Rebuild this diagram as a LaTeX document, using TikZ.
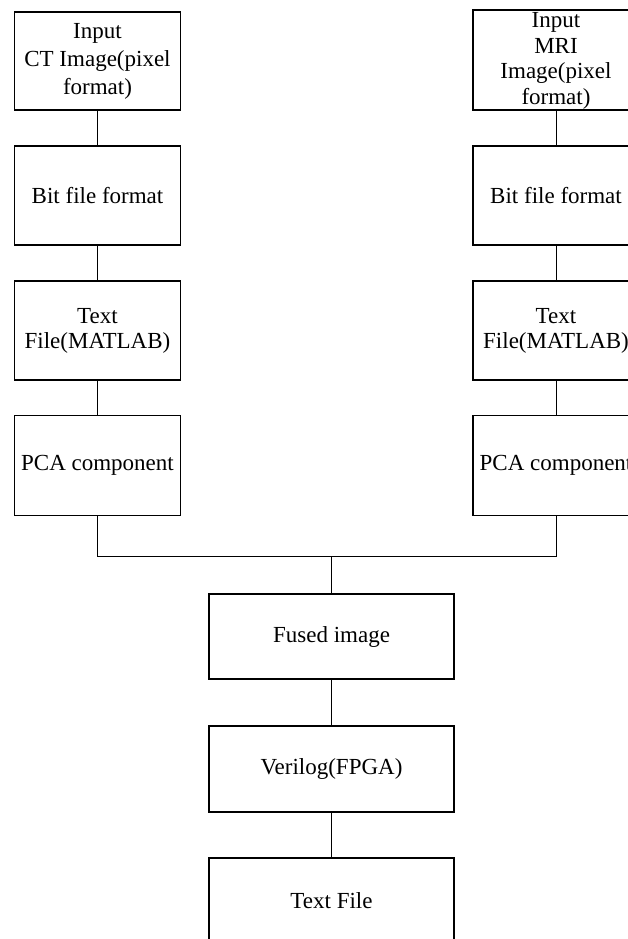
\documentclass[tikz,border=0pt]{standalone}
\usepackage{fontspec}
\setmainfont{Liberation Serif}
\begin{document}
\begin{tikzpicture}[x=1pt,y=1pt,
  box/.style={draw=black, line width=1.3pt, minimum width=166pt, minimum height=99pt, inner sep=0pt},
  wbox/.style={box, minimum width=245pt, minimum height=85pt},
  lbl/.style={align=center, inner sep=0pt, font=\fontsize{23}{27}\selectfont},
  link/.style={draw=black, line width=0.9pt}]
\useasboundingbox (0,0) rectangle (628,-939);
\clip (0,0) rectangle (628,-939);
% left column
\node[box, minimum height=98pt] (l1) at (97.5,-61) {};
\node[box] (l2) at (97.5,-195.5) {};
\node[box] (l3) at (97.5,-330.5) {};
\node[box, minimum height=100pt] (l4) at (97.5,-465.5) {};
% right column
\node[box, minimum height=100pt] (r1) at (556,-60) {};
\node[box] (r2) at (556,-195.5) {};
\node[box] (r3) at (556,-330.5) {};
\node[box, minimum height=100pt] (r4) at (556,-465.5) {};
% bottom column
\node[wbox] (f) at (331.5,-636.5) {};
\node[wbox, minimum height=86pt] (v) at (331.5,-769) {};
\node[wbox] (t) at (331.5,-900.5) {};
% labels
\node[lbl, font=\fontsize{23}{28}\selectfont] (l1t) at (l1.center) {Input\\CT Image(pixel\\format)};
\node[lbl] (l2t) at (l2.center) {Bit file format};
\node[lbl, font=\fontsize{23}{25}\selectfont] (l3t) at (l3.center) {Text\\File(MATLAB)};
\node[lbl] (l4t) at (l4.center) {PCA component};
\node[lbl, font=\fontsize{23}{25.5}\selectfont] (r1t) at ([yshift=-1pt]r1.center) {Input\\MRI\\Image(pixel\\format)};
\node[lbl] (r2t) at (r2.center) {Bit file format};
\node[lbl, font=\fontsize{23}{25}\selectfont] (r3t) at (r3.center) {Text\\File(MATLAB)};
\node[lbl] (r4t) at (r4.center) {PCA component};
\node[lbl] (ft) at (f.center) {Fused image};
\node[lbl] (vt) at (v.center) {Verilog(FPGA)};
\node[lbl] (tt) at (t.center) {Text File};
% connectors
\coordinate (j) at (331.5,-556);
\draw[link] (l1.south) -- (l2.north);
\draw[link] (l2.south) -- (l3.north);
\draw[link] (l3.south) -- (l4.north);
\draw[link] (r1.south) -- (r2.north);
\draw[link] (r2.south) -- (r3.north);
\draw[link] (r3.south) -- (r4.north);
\draw[link] (l4.south) |- (j);
\draw[link] (r4.south) |- (j);
\draw[link] (j) -- (f.north);
\draw[link] (f.south) -- (v.north);
\draw[link] (v.south) -- (t.north);
\end{tikzpicture}
\end{document}
